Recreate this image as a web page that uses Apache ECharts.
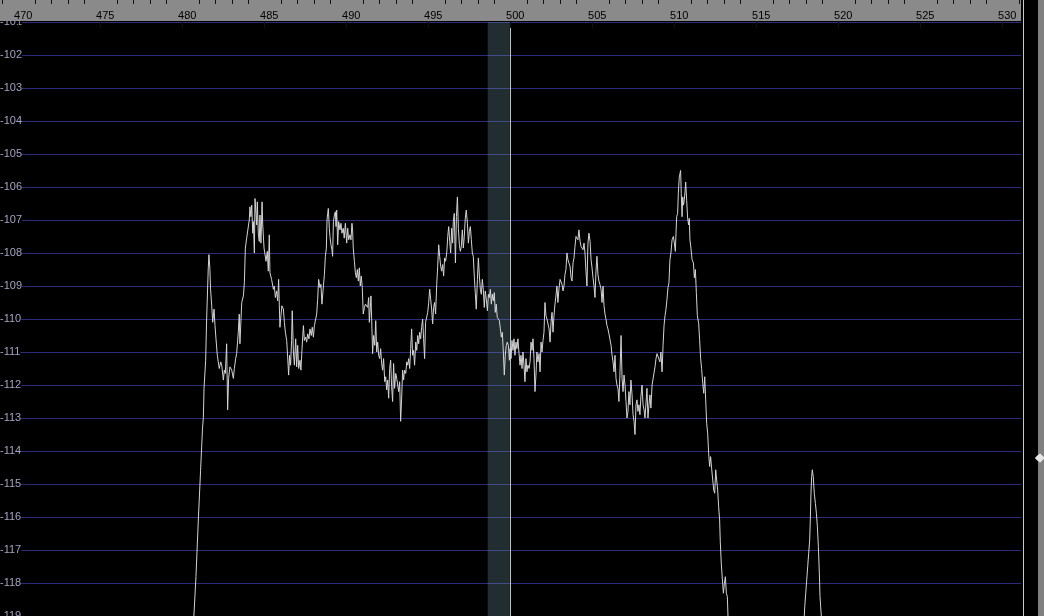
<!DOCTYPE html>
<html>
<head>
<meta charset="utf-8">
<script src="https://cdn.jsdelivr.net/npm/echarts@6/dist/echarts.min.js"></script>
<style>
html,body{margin:0;padding:0;background:#000;}
#chart{width:1044px;height:616px;}
</style>
</head>
<body>
<div id="chart"></div>
<script>
// ---- data (frequency in MHz, level in dBm) ----
const majorTicks = [470,475,480,485,490,495,500,505,510,515,520,525,530];
const minorTicks = [469,471,472,473,474,476,477,478,479,481,482,483,484,486,487,488,489,491,492,493,494,496,497,498,499,501,502,503,504,506,507,508,509,511,512,513,514,516,517,518,519,521,522,523,524,526,527,528,529,531];
const levelTicks = [-119,-118,-117,-116,-115,-114,-113,-112,-111,-110,-109,-108,-107,-106,-105,-104,-103,-102,-101];
const markerBand = [498.6, 499.95];
const markerFreq = 500;

const mainFreq = [
480.66,480.81,480.96,481.09,481.21,481.26,481.28,481.30,481.40,481.46,481.56,481.60,481.66,481.70,481.77,481.83,481.91,481.97,482.03,482.11,
482.17,482.23,482.32,482.38,482.48,482.54,482.60,482.68,482.74,482.80,482.88,482.99,483.09,483.15,483.23,483.29,483.39,483.45,483.49,483.60,
483.70,483.76,483.82,483.90,484.00,484.06,484.10,484.16,484.21,484.27,484.31,484.37,484.41,484.47,484.51,484.55,484.61,484.67,484.71,484.77,
484.84,484.88,484.96,485.02,485.08,485.16,485.22,485.28,485.32,485.42,485.49,485.53,485.59,485.65,485.73,485.79,485.85,485.89,485.93,485.99,
486.05,486.14,486.20,486.26,486.34,486.40,486.46,486.52,486.58,486.64,486.68,486.75,486.81,486.89,486.95,487.01,487.07,487.15,487.21,487.27,
487.36,487.42,487.50,487.56,487.62,487.70,487.76,487.84,487.90,487.97,488.03,488.11,488.17,488.23,488.29,488.37,488.43,488.49,488.58,488.64,
488.70,488.76,488.80,488.84,488.88,488.94,488.98,489.04,489.10,489.14,489.19,489.25,489.31,489.35,489.39,489.45,489.51,489.59,489.65,489.71,
489.79,489.85,489.92,490.00,490.06,490.12,490.20,
490.26,490.32,490.36,490.40,490.47,490.53,490.59,490.65,490.71,490.77,490.83,490.89,490.95,491.01,491.08,491.14,491.22,491.28,491.34,491.38,
491.44,491.48,491.54,491.58,491.64,491.71,491.77,491.83,491.89,491.95,492.01,492.07,492.13,492.19,492.25,492.32,492.38,492.44,492.50,492.56,
492.62,492.68,492.74,492.80,492.86,492.92,492.99,493.05,493.11,493.17,493.23,493.29,493.35,493.41,493.47,493.53,493.60,493.66,493.72,493.78,
493.84,493.90,493.96,494.02,494.08,494.14,494.21,494.27,494.33,494.39,494.45,494.51,494.57,494.63,494.69,494.75,494.81,494.88,494.94,495.00,
495.06,495.12,495.18,495.24,495.30,495.36,495.42,495.49,495.55,495.61,495.67,495.73,495.79,495.85,495.91,495.97,496.03,496.10,496.16,496.22,
496.28,496.34,496.40,496.46,496.50,496.56,496.63,496.69,496.75,496.81,496.87,496.93,496.99,497.05,497.11,497.17,497.23,497.29,497.36,497.42,
497.48,497.54,497.60,497.66,497.72,497.78,497.84,497.90,497.97,498.03,498.09,498.15,498.21,498.27,498.33,498.39,498.45,498.51,498.58,498.64,
498.70,498.76,498.82,498.88,498.94,499.00,499.06,499.12,499.18,499.25,499.31,499.37,499.43,499.49,499.55,499.61,499.67,499.73,499.79,499.86,
499.92,499.96,
500.02,500.08,500.14,500.20,500.26,500.32,500.38,500.44,500.51,500.57,500.63,500.69,500.75,500.81,500.87,500.93,500.99,501.05,501.12,501.18,
501.24,501.30,501.36,501.42,501.48,501.54,501.60,501.66,501.73,501.79,501.85,501.91,501.97,502.03,502.09,502.15,502.21,502.27,502.34,502.40,
502.46,502.52,502.58,502.64,502.70,502.76,502.82,502.88,502.94,503.01,503.07,503.13,503.19,503.25,503.31,503.37,503.43,503.49,503.55,503.62,
503.68,503.74,503.80,503.86,503.92,503.98,504.04,504.10,504.16,504.23,504.29,504.35,504.41,504.47,504.53,504.59,504.65,504.71,504.77,504.84,
504.90,504.96,505.02,505.08,505.14,505.20,505.26,505.32,505.38,505.44,505.51,505.57,505.63,505.69,505.75,505.81,505.87,505.93,505.99,506.05,
506.12,506.18,506.24,506.30,506.36,506.42,506.48,506.54,506.60,506.66,506.73,506.79,506.85,506.91,506.97,507.03,507.09,507.15,507.21,507.27,
507.33,507.40,507.46,507.52,507.58,507.64,507.70,507.76,507.82,507.88,507.94,508.01,508.07,508.13,508.19,508.25,508.31,508.37,508.43,508.49,
508.55,508.62,508.68,508.74,508.80,508.86,508.92,508.98,509.04,509.10,509.16,509.23,509.29,509.35,509.41,509.47,509.53,509.59,509.65,
509.71,509.77,509.84,509.92,509.98,510.04,510.08,510.12,510.18,510.22,510.28,510.32,510.36,510.40,510.45,510.49,510.53,510.57,510.63,510.67,
510.73,510.79,510.85,510.89,510.93,510.99,511.06,511.14,511.20,511.26,511.32,511.38,511.46,511.52,511.58,511.64,511.71,511.77,511.83,511.89,
511.95,512.01,512.07,512.13,512.19,512.25,512.32,512.38,512.44,512.50,512.56,512.62,512.68,512.74,512.78,512.84,512.91,512.97,513.03,513.09,
513.15,513.21,513.25,513.31
];
const mainLevel = [
-119.2,-117.8,-116.0,-114.6,-113.3,-112.98,-112.55,-112.10,-111.25,-110.00,-108.45,-108.05,-108.50,-109.10,-109.60,-110.10,-109.70,-110.20,-110.60,-111.10,
-111.30,-111.50,-111.30,-111.40,-111.85,-111.55,-111.65,-110.75,-112.75,-111.80,-111.45,-111.55,-111.80,-111.50,-111.20,-111.05,-110.40,-109.85,-110.75,-109.50,
-109.30,-108.90,-107.85,-107.55,-107.55,-107.00,-106.60,-106.90,-106.55,-107.40,-107.05,-108.00,-106.35,-106.80,-107.15,-106.45,-107.40,-107.65,-106.85,-107.70,
-106.45,-107.15,-107.85,-107.80,-108.25,-107.95,-108.55,-107.45,-108.60,-108.80,-108.75,-109.10,-109.00,-109.35,-109.15,-109.45,-108.80,-109.55,-110.25,-109.90,
-109.60,-109.70,-110.10,-110.40,-110.65,-111.15,-111.70,-111.10,-111.40,-110.65,-109.75,-111.00,-111.40,-110.60,-111.45,-110.80,-111.50,-111.25,-111.55,-110.95,
-110.20,-110.65,-110.55,-110.70,-110.45,-110.60,-110.30,-110.50,-110.25,-110.55,-110.20,-110.15,-109.85,-109.40,-108.80,-109.05,-108.95,-109.55,-109.00,-108.65,
-108.10,-107.85,-107.00,-106.80,-106.65,-107.25,-107.50,-107.75,-107.90,-108.10,-107.05,-106.85,-106.75,-107.20,-106.70,-107.75,-107.05,-107.30,-107.10,-107.40,
-107.25,-107.55,-107.10,-107.70,-107.25,-107.60,-107.45,
-107.60,-107.10,-107.30,-107.85,-108.25,-108.60,-108.75,-108.50,-108.85,-108.45,-109.00,-108.70,-109.05,-109.85,-109.65,-109.55,-109.50,-109.65,-109.35,-110.10,
-109.65,-109.30,-110.30,-111.05,-110.50,-110.80,-110.05,-111.00,-110.70,-111.10,-111.20,-110.90,-111.35,-111.55,-111.20,-111.90,-111.75,-112.15,-111.85,-112.40,
-111.50,-111.25,-112.05,-112.50,-111.35,-112.10,-111.65,-111.80,-111.85,-112.20,-111.90,-113.10,-112.40,-111.55,-111.85,-111.55,-111.65,-111.30,-111.40,-111.20,
-111.50,-110.90,-110.30,-111.10,-110.95,-111.40,-110.70,-110.95,-110.50,-110.75,-110.40,-110.60,-110.25,-110.00,-110.60,-111.20,-110.10,-110.05,-109.80,-109.50,
-109.10,-109.40,-109.70,-110.15,-109.65,-109.50,-109.85,-108.95,-108.40,-107.75,-108.10,-108.40,-108.55,-108.35,-108.70,-108.15,-108.25,-108.00,-107.50,-107.20,
-107.65,-108.00,-107.25,-107.70,-107.05,-106.80,-108.30,-106.90,-106.30,-107.25,-107.75,-107.95,-107.80,-107.30,-107.85,-107.50,-106.95,-106.70,-107.10,-107.70,
-107.35,-107.20,-107.60,-108.00,-108.10,-108.70,-109.20,-109.70,-108.80,-108.15,-108.70,-109.10,-109.25,-108.80,-109.10,-109.65,-109.15,-109.40,-109.75,-109.25,
-109.35,-109.10,-109.55,-109.25,-109.45,-109.20,-109.80,-109.55,-109.95,-110.00,-110.05,-110.30,-110.55,-110.40,-111.00,-111.70,-111.10,-110.80,-110.70,-110.80,
-111.25,-110.90,
-111.20,-110.65,-110.95,-110.60,-111.10,-110.70,-110.90,-110.60,-111.05,-111.40,-111.10,-111.50,-111.00,-111.40,-111.90,-111.20,-111.60,-111.40,-111.50,-111.30,
-110.70,-110.95,-110.60,-111.20,-112.20,-111.70,-111.00,-111.30,-111.05,-111.60,-110.70,-111.00,-110.65,-110.40,-109.50,-109.90,-110.00,-109.95,-110.30,-110.70,
-110.10,-109.80,-110.40,-109.90,-109.55,-109.30,-109.00,-109.50,-109.10,-108.80,-108.85,-108.95,-109.15,-109.00,-108.65,-108.50,-108.00,-108.20,-108.30,-108.40,
-108.75,-108.85,-108.30,-108.15,-107.80,-107.50,-107.45,-107.60,-107.30,-107.65,-107.80,-107.75,-107.90,-107.70,-108.00,-108.55,-109.00,-107.70,-107.40,-107.65,
-108.20,-108.45,-108.75,-109.00,-109.35,-108.55,-108.10,-108.65,-108.85,-108.95,-109.10,-109.50,-109.00,-109.60,-109.85,-110.00,-110.20,-110.30,-110.45,-110.40,
-110.80,-111.10,-111.30,-111.60,-111.10,-111.80,-112.00,-112.10,-112.50,-111.70,-110.50,-111.80,-112.20,-111.70,-112.00,-112.50,-113.00,-112.80,-112.20,-112.60,
-111.85,-112.30,-112.90,-113.10,-113.50,-112.60,-112.45,-112.80,-112.60,-112.90,-112.35,-112.00,-112.60,-112.75,-113.00,-112.55,-112.10,-113.00,-112.60,-112.30,
-112.70,-112.00,-111.95,-111.95,-111.45,-111.20,-111.05,-111.00,-111.10,-111.30,-111.00,-111.60,-110.80,-110.20,-109.90,-109.70,-109.40,-109.05,-108.90,
-108.20,-108.00,-107.60,-107.50,-107.70,-107.95,-107.40,-106.90,-106.80,-106.20,-105.70,-105.60,-105.50,-106.20,-106.90,-106.30,-106.55,-106.45,-106.15,-105.85,
-106.40,-106.95,-107.15,-106.95,-107.60,-107.85,-108.20,-108.30,-108.75,-108.50,-109.20,-109.90,-110.13,-110.63,-111.19,-111.50,-111.95,-112.25,-111.75,-112.45,
-113.16,-113.46,-114.07,-114.47,-114.17,-114.52,-114.88,-115.18,-115.28,-114.57,-114.88,-115.18,-115.69,-116.09,-116.75,-117.40,-117.91,-118.31,-118.01,-117.81,
-118.31,-118.41,-119.00,-119.60
];
const spurFreq = [517.84,517.93,517.99,518.05,518.11,518.17,518.23,518.27,518.31,518.35,518.39,518.45,518.51,518.58,518.64,518.70,518.76,518.82,518.86,518.90,518.94,518.98];
const spurLevel = [-119.60,-118.72,-118.31,-117.91,-117.50,-117.10,-116.70,-116.09,-115.28,-114.78,-114.57,-114.78,-115.28,-115.59,-115.89,-116.29,-116.90,-117.70,-118.41,-118.72,-119.00,-119.60];

// ---- chart ----
const X_MIN = 468.86, X_MAX = 531.116;
const FONT = 'Liberation Sans, Arial, sans-serif';
const pairs = (xs, ys) => xs.map((x, i) => [x, ys[i]]);

const chart = echarts.init(document.getElementById('chart'), null, {renderer: 'canvas'});
const traceStyle = {color: '#d4d4d4', width: 1};

chart.setOption({
  animation: false,
  backgroundColor: '#000',
  grid: [
    {left: 0, right: 23, top: 22, bottom: 0, show: true, backgroundColor: '#000', borderWidth: 0, containLabel: false, outerBoundsMode: 'none'},
    {left: 0, right: 23, top: 0, height: 21, show: false, containLabel: false, outerBoundsMode: 'none'}
  ],
  xAxis: [
    {gridIndex: 0, type: 'value', min: X_MIN, max: X_MAX, show: false},
    {gridIndex: 1, type: 'value', min: X_MIN, max: X_MAX, position: 'top', z: 110,
      axisLine: {show: false}, splitLine: {show: false},
      axisTick: {show: true, inside: true, length: 7, customValues: majorTicks, lineStyle: {color: '#111', width: 1}},
      axisLabel: {show: true, inside: true, margin: 10, customValues: majorTicks, color: '#000', fontSize: 11, fontFamily: FONT, padding: [0, 0, 0, 9]}
    },
    {gridIndex: 1, type: 'value', min: X_MIN, max: X_MAX, position: 'top', z: 110,
      axisLine: {show: false}, splitLine: {show: false}, axisLabel: {show: false},
      axisTick: {show: true, inside: true, length: 4, customValues: minorTicks, lineStyle: {color: '#111', width: 1}}
    }
  ],
  yAxis: [
    {gridIndex: 0, type: 'value', min: -119, max: -101, interval: 1,
      axisLine: {show: false}, axisTick: {show: false},
      splitLine: {show: true, lineStyle: {color: '#2c2c7a', width: 1}},
      axisLabel: {inside: true, margin: 0, color: '#a4a4c4', fontSize: 11, fontFamily: FONT, backgroundColor: '#000', customValues: levelTicks}
    },
    {gridIndex: 1, type: 'value', show: false}
  ],
  graphic: [
    {type: 'rect', z: 100, zlevel: 0, shape: {x: 0, y: 0, width: 1021, height: 21}, style: {fill: '#8a8a8a'}},
    {type: 'rect', z: 100, shape: {x: 1038, y: 0, width: 6, height: 616}, style: {fill: '#808080'}},
    {type: 'line', z: 100, shape: {x1: 1023.5, y1: 0, x2: 1023.5, y2: 616}, style: {stroke: '#c8c8c8', lineWidth: 1}},
    {type: 'polygon', z: 101, shape: {points: [[1040, 453], [1045, 458], [1040, 463], [1035, 458]]}, style: {fill: '#e6e6e6', stroke: '#9a9a9a', lineWidth: 1}}
  ],
  series: [
    {type: 'line', xAxisIndex: 0, yAxisIndex: 0, data: pairs(mainFreq, mainLevel), showSymbol: false, symbol: 'none',
      lineStyle: traceStyle, clip: true, z: 5,
      markArea: {silent: true, itemStyle: {color: 'rgba(120,160,175,0.28)'}, data: [[{xAxis: markerBand[0]}, {xAxis: markerBand[1]}]]},
      markLine: {silent: true, symbol: 'none', label: {show: false}, lineStyle: {color: '#b8c0c0', width: 1, type: 'solid'}, data: [{xAxis: markerFreq}]}
    },
    {type: 'line', xAxisIndex: 0, yAxisIndex: 0, data: pairs(spurFreq, spurLevel), showSymbol: false, symbol: 'none',
      lineStyle: traceStyle, clip: true, z: 5}
  ]
});
</script>
</body>
</html>
